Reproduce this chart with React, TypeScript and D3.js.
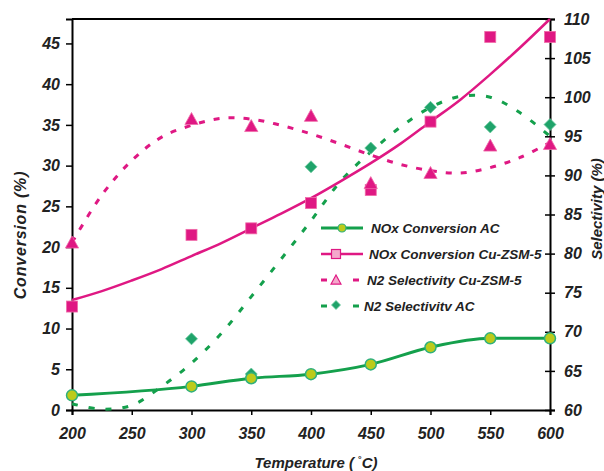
import React, { useEffect, useRef } from 'react';
import * as d3 from 'd3';

// measured points
const temps = [200, 300, 350, 400, 450, 500, 550, 600];
const noxAC = [1.8, 2.9, 3.9, 4.4, 5.6, 7.7, 8.8, 8.8];
const noxCu = [12.7, 21.5, 22.3, 25.4, 27.0, 35.4, 45.8, 45.8];
const n2Cu = [81.4, 97.2, 96.3, 97.6, 89.0, 90.3, 93.8, 94.0];
const n2ACTemps = [300, 350, 400, 450, 500, 550, 600];
const n2AC = [69.1, 64.6, 91.1, 93.5, 98.7, 96.2, 96.5];

// trend lines, every 25 degrees
const trendTemps = [200, 225, 250, 275, 300, 325, 350, 375, 400, 425, 450, 475, 500, 525, 550, 575, 600];
const noxCuTrend = [13.5, 14.6, 15.9, 17.3, 18.9, 20.5, 22.3, 24.1, 26.0, 28.1, 30.3, 32.7, 35.4, 38.1, 41.2, 44.5, 48.0];
const n2CuTrend = [81.4, 87.5, 91.9, 94.9, 96.4, 97.3, 97.2, 96.4, 95.3, 94.0, 92.6, 91.4, 90.6, 90.3, 91.0, 92.3, 94.2];
const n2ACTrend = [60.8, 60.1, 60.6, 63.0, 66.0, 69.8, 74.5, 79.3, 84.2, 89.3, 93.0, 96.2, 98.7, 100.1, 100.0, 98.0, 95.0];

const xTicks = [200, 250, 300, 350, 400, 450, 500, 550, 600];
const leftTicks = [0, 5, 10, 15, 20, 25, 30, 35, 40, 45];
const rightTicks = [60, 65, 70, 75, 80, 85, 90, 95, 100, 105, 110];

const legendLabels = ['NOx Conversion  AC', 'NOx Conversion Cu-ZSM-5', 'N2 Selectivity Cu-ZSM-5', 'N2 Selectivitv AC'];

const MAGENTA = '#df1883';
const GREEN = '#14a04c';
const FONT = '"Liberation Sans", Arial, Helvetica, sans-serif';

const App = () => {
  const svgRef = useRef<SVGSVGElement>(null);
  const width = 604;
  const height = 471;

  useEffect(() => {
    const svg = d3.select(svgRef.current);
    svg.selectAll('*').remove();

    const left = 72, right = 550, top = 19, bottom = 410;
    const x = d3.scaleLinear().domain([200, 600]).range([left, right]);
    const yL = d3.scaleLinear().domain([0, 48]).range([bottom, top]);
    const yR = d3.scaleLinear().domain([60, 110]).range([bottom, top]);

    const styleAxis = g => {
      g.select('.domain').attr('stroke', '#000').attr('stroke-width', 2);
      g.selectAll('.tick line').attr('stroke', '#000').attr('stroke-width', 1.5);
      g.selectAll('.tick text')
        .attr('fill', '#222')
        .style('font-family', FONT)
        .style('font-size', '16px')
        .style('font-weight', 'bold')
        .style('font-style', 'italic');
    };

    // top frame line
    svg.append('line')
      .attr('x1', left).attr('x2', right).attr('y1', top).attr('y2', top)
      .attr('stroke', '#000').attr('stroke-width', 2);

    svg.append('g')
      .attr('transform', `translate(0,${bottom})`)
      .call(d3.axisBottom(x).tickValues(xTicks).tickSizeOuter(0).tickSize(5).tickPadding(13))
      .call(styleAxis);

    svg.append('g')
      .attr('transform', `translate(${left},0)`)
      .call(d3.axisLeft(yL).tickValues(leftTicks).tickSizeOuter(0).tickSize(6).tickPadding(6))
      .call(styleAxis);

    const gR = svg.append('g')
      .attr('transform', `translate(${right},0)`)
      .call(d3.axisRight(yR).tickValues(rightTicks).tickSizeOuter(0).tickSize(5).tickPadding(9))
      .call(styleAxis);
    gR.selectAll('.tick line').attr('x1', -5).attr('x2', 5);

    // axis titles
    const title = (sel, size) => sel
      .style('font-family', FONT).style('font-size', size + 'px')
      .style('font-weight', 'bold').style('font-style', 'italic').attr('fill', '#222');

    svg.append('text')
      .attr('transform', 'translate(20,235) rotate(-90)')
      .attr('text-anchor', 'middle').attr('dy', '0.35em')
      .attr('letter-spacing', 0.8)
      .call(title, 16)
      .text('Conversion (%)');

    svg.append('text')
      .attr('transform', 'translate(597,209) rotate(-90)')
      .attr('text-anchor', 'middle').attr('dy', '0.35em')
      .call(title, 15)
      .text('Selectivity (%)');

    const xt = svg.append('text')
      .attr('x', 316).attr('y', 468)
      .attr('text-anchor', 'middle')
      .call(title, 15);
    xt.append('tspan').text('Temperature ( ');
    xt.append('tspan').attr('dy', -6).style('font-size', '9px').style('font-style', 'normal').text('°');
    xt.append('tspan').attr('dy', 6).text('C)');

    // lines
    const lineFor = (xs, ys, yScale, curve) =>
      d3.line<number>().x((_, i) => x(xs[i])).y(d => yScale(d)).curve(curve)(ys);

    svg.append('path')
      .attr('d', lineFor(trendTemps, n2ACTrend, yR, d3.curveCatmullRom))
      .attr('fill', 'none').attr('stroke', GREEN).attr('stroke-width', 3)
      .attr('stroke-dasharray', '6,11');

    svg.append('path')
      .attr('d', lineFor(trendTemps, n2CuTrend, yR, d3.curveCatmullRom))
      .attr('fill', 'none').attr('stroke', MAGENTA).attr('stroke-width', 3)
      .attr('stroke-dasharray', '6,9');

    svg.append('path')
      .attr('d', lineFor(trendTemps, noxCuTrend, yL, d3.curveCatmullRom))
      .attr('fill', 'none').attr('stroke', MAGENTA).attr('stroke-width', 2.5);

    svg.append('path')
      .attr('d', lineFor(temps, noxAC, yL, d3.curveMonotoneX))
      .attr('fill', 'none').attr('stroke', GREEN).attr('stroke-width', 3);

    // markers
    const tri = (s: number) => `M0,${-s * 0.55}L${s * 0.55},${s * 0.45}L${-s * 0.55},${s * 0.45}Z`;
    const dia = (s: number) => `M0,${-s / 2}L${s / 2},0L0,${s / 2}L${-s / 2},0Z`;

    svg.append('g').selectAll('rect').data(noxCu).join('rect')
      .attr('x', (_, i) => x(temps[i]) - 5.5).attr('y', d => yL(d) - 5.5)
      .attr('width', 11).attr('height', 11)
      .attr('fill', MAGENTA).attr('stroke', '#f06aa8').attr('stroke-width', 0.8);

    svg.append('g').selectAll('path').data(n2Cu).join('path')
      .attr('transform', (d, i) => `translate(${x(temps[i])},${yR(d)})`)
      .attr('d', tri(12))
      .attr('fill', MAGENTA).attr('stroke', '#f06aa8').attr('stroke-width', 0.8);

    svg.append('g').selectAll('path').data(n2AC).join('path')
      .attr('transform', (d, i) => `translate(${x(n2ACTemps[i])},${yR(d)})`)
      .attr('d', dia(12))
      .attr('fill', '#1fa36a').attr('stroke', '#6ccaa0').attr('stroke-width', 0.8);

    svg.append('g').selectAll('circle').data(noxAC).join('circle')
      .attr('cx', (_, i) => x(temps[i])).attr('cy', d => yL(d)).attr('r', 5.5)
      .attr('fill', '#bccb1b').attr('stroke', '#2fb07c').attr('stroke-width', 1.5);

    // legend
    const rowY = [228, 254, 280, 306];
    const textX = [371, 369, 367, 364];
    const lg = svg.append('g');
    lg.append('line').attr('x1', 321).attr('x2', 363).attr('y1', rowY[0]).attr('y2', rowY[0])
      .attr('stroke', GREEN).attr('stroke-width', 3);
    lg.append('circle').attr('cx', 342).attr('cy', rowY[0]).attr('r', 4)
      .attr('fill', '#bccb1b').attr('stroke', '#2fb07c').attr('stroke-width', 1.2);

    lg.append('line').attr('x1', 321).attr('x2', 363).attr('y1', rowY[1]).attr('y2', rowY[1])
      .attr('stroke', MAGENTA).attr('stroke-width', 2.5);
    lg.append('rect').attr('x', 331.5).attr('y', rowY[1] - 4.5).attr('width', 9).attr('height', 9)
      .attr('fill', '#f4a8cb').attr('stroke', MAGENTA).attr('stroke-width', 1.2);

    [[321, 327], [353, 359]].forEach(([a, b]) => {
      lg.append('line').attr('x1', a).attr('x2', b).attr('y1', rowY[2]).attr('y2', rowY[2])
        .attr('stroke', MAGENTA).attr('stroke-width', 3);
      lg.append('line').attr('x1', a).attr('x2', b).attr('y1', rowY[3]).attr('y2', rowY[3])
        .attr('stroke', GREEN).attr('stroke-width', 3);
    });
    lg.append('path').attr('transform', `translate(336,${rowY[2]})`).attr('d', tri(9))
      .attr('fill', '#f4a8cb').attr('stroke', MAGENTA).attr('stroke-width', 1.2);
    lg.append('path').attr('transform', `translate(336,${rowY[3] - 1})`).attr('d', dia(9))
      .attr('fill', '#1fa36a').attr('stroke', '#6ccaa0').attr('stroke-width', 0.8);

    lg.selectAll('text').data(legendLabels).join('text')
      .attr('x', (_, i) => textX[i]).attr('y', (_, i) => rowY[i]).attr('dy', '0.35em')
      .style('font-family', FONT).style('font-size', '13.5px')
      .style('font-weight', 'bold').style('font-style', 'italic')
      .attr('fill', '#222')
      .text(d => d);
  }, []);

  return (
    <svg
      ref={svgRef}
      width={width}
      height={height}
      style={{ position: 'absolute', left: 0, top: 0, background: '#fff' }}
    ></svg>
  );
};

export default App;
